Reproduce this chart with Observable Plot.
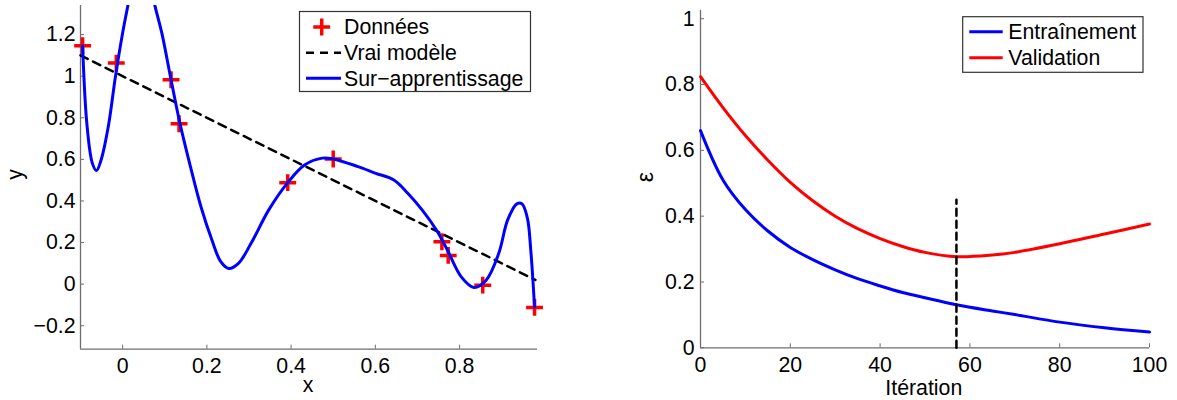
<!DOCTYPE html>
<html><head><meta charset="utf-8">
<script src="https://cdn.jsdelivr.net/npm/d3@7"></script>
<script src="https://cdn.jsdelivr.net/npm/@observablehq/plot@0.6"></script>
<style>
body{margin:0;background:#fff;}
#wrap{position:relative;width:1177px;height:400px;overflow:hidden;}
#wrap svg{position:absolute;top:0;}
</style></head><body><div id="wrap"></div>
<script>
// ---- Left panel data ----
const dataX = [-0.095, -0.015, 0.115, 0.134, 0.392, 0.500, 0.758, 0.773, 0.855, 0.978];
const dataY = [1.147, 1.063, 0.983, 0.771, 0.488, 0.602, 0.204, 0.138, -0.005, -0.112];
const trueX = [-0.1, 0.98];
const trueY = [1.1, 0.02];
const fitX = [-0.095, -0.085, -0.072, -0.062, -0.051, -0.034, -0.017, 0.0, 0.013, 0.028, 0.044, 0.060, 0.076, 0.093, 0.115, 0.136, 0.161, 0.186, 0.212, 0.233, 0.252, 0.275, 0.305, 0.347, 0.392, 0.432, 0.474, 0.500, 0.559, 0.601, 0.644, 0.677, 0.711, 0.745, 0.771, 0.804, 0.834, 0.863, 0.893, 0.914, 0.936, 0.948, 0.961, 0.969, 0.978];
const fitY = [1.147, 0.774, 0.582, 0.546, 0.598, 0.758, 0.999, 1.208, 1.345, 1.50, 1.57, 1.50, 1.345, 1.208, 0.983, 0.774, 0.565, 0.372, 0.212, 0.108, 0.075, 0.100, 0.196, 0.357, 0.488, 0.573, 0.606, 0.602, 0.565, 0.533, 0.501, 0.437, 0.357, 0.260, 0.164, 0.035, -0.016, 0.019, 0.148, 0.308, 0.386, 0.386, 0.317, 0.164, -0.110];
const leftXDomain = [-0.1, 0.985];
const leftYDomain = [-0.313, 1.34];
const leftXTicks = [0, 0.2, 0.4, 0.6, 0.8];
const leftYTicks = [-0.2, 0, 0.2, 0.4, 0.6, 0.8, 1, 1.2];
const leftLegend = ["Données", "Vrai modèle", "Sur\u2212apprentissage"];

// ---- Right panel data ----
const iter = [0, 5, 10, 15, 20, 25, 30, 35, 40, 45, 50, 57, 65, 70, 80, 90, 100];
const trainErr = [0.66, 0.51, 0.42, 0.355, 0.305, 0.268, 0.237, 0.21, 0.188, 0.168, 0.152, 0.131, 0.112, 0.101, 0.078, 0.061, 0.048];
const validErr = [0.824, 0.73, 0.645, 0.57, 0.503, 0.447, 0.400, 0.362, 0.332, 0.308, 0.290, 0.277, 0.282, 0.290, 0.316, 0.346, 0.376];
const stopIter = [57, 57];
const stopErr = [0, 0.45];
const rightXDomain = [0, 100];
const rightYDomain = [0, 1.025];
const rightXTicks = [0, 20, 40, 60, 80, 100];
const rightYTicks = [0, 0.2, 0.4, 0.6, 0.8, 1];
const rightLegend = ["Entraînement", "Validation"];

const FONT = "'Liberation Sans', Arial, Helvetica, sans-serif";
const FS = 21.3;
const AX = "#6e6e6e";
const fmt = d => String(Math.round(d * 10) / 10).replace("-", "\u2212");
const pts = (xs, ys) => xs.map((x, i) => ({x, y: ys[i]}));

const left = Plot.plot({
  width: 590, height: 400,
  marginLeft: 80, marginRight: 53, marginTop: 5, marginBottom: 51.3,
  x: {domain: leftXDomain},
  y: {domain: leftYDomain},
  style: {fontFamily: FONT, fontSize: FS + "px", color: "black", background: "transparent", overflow: "visible"},
  marks: [
    Plot.ruleY([leftYDomain[0]], {stroke: AX, strokeWidth: 1.3}),
    Plot.ruleX([leftXDomain[0]], {stroke: AX, strokeWidth: 1.3}),
    Plot.axisX({ticks: leftXTicks, tickSize: -4, tickPadding: 13, tickFormat: fmt, label: null, stroke: AX, fill: "black", fontSize: FS}),
    Plot.axisY({ticks: leftYTicks, tickSize: -4, tickPadding: 9, tickFormat: fmt, label: null, stroke: AX, fill: "black", fontSize: FS}),
    Plot.dot(pts(dataX, dataY), {x: "x", y: "y", symbol: "plus", r: 5.5, stroke: "#ff0000", strokeWidth: 3.5}),
    Plot.line(pts(trueX, trueY), {x: "x", y: "y", stroke: "black", strokeWidth: 2.5, strokeDasharray: "8,6"}),
    Plot.line(pts(fitX, fitY), {x: "x", y: "y", stroke: "#0000ff", strokeWidth: 3, curve: "catmull-rom", clip: true})
  ]
});

const right = Plot.plot({
  width: 587, height: 400,
  marginLeft: 110, marginRight: 28, marginTop: 10, marginBottom: 52.7,
  x: {domain: rightXDomain},
  y: {domain: rightYDomain},
  style: {fontFamily: FONT, fontSize: FS + "px", color: "black", background: "transparent", overflow: "visible"},
  marks: [
    Plot.ruleY([rightYDomain[0]], {stroke: AX, strokeWidth: 1.3}),
    Plot.ruleX([rightXDomain[0]], {stroke: AX, strokeWidth: 1.3}),
    Plot.axisX({ticks: rightXTicks, tickSize: -4, tickPadding: 13, tickFormat: fmt, label: null, stroke: AX, fill: "black", fontSize: FS}),
    Plot.axisY({ticks: rightYTicks, tickSize: -4, tickPadding: 10, tickFormat: fmt, label: null, stroke: AX, fill: "black", fontSize: FS}),
    Plot.line(pts(iter, trainErr), {x: "x", y: "y", stroke: "#0000ff", strokeWidth: 3, curve: "catmull-rom"}),
    Plot.line(pts(iter, validErr), {x: "x", y: "y", stroke: "#ff0000", strokeWidth: 3, curve: "catmull-rom"}),
    Plot.line(pts(stopIter, stopErr), {x: "x", y: "y", stroke: "black", strokeWidth: 2.5, strokeDasharray: "7,5"})
  ]
});

const wrap = document.getElementById("wrap");
left.style.left = "0px";
right.style.left = "590px";
wrap.appendChild(left);
wrap.appendChild(right);

function addText(svg, txt, x, y, rotate, size) {
  const t = d3.select(svg).append("text")
    .attr("font-family", FONT).attr("font-size", size || FS).attr("fill", "black")
    .attr("text-anchor", "middle").text(txt);
  if (rotate) t.attr("transform", `translate(${x},${y}) rotate(-90)`);
  else t.attr("x", x).attr("y", y);
}
addText(left, "x", 308, 392);
addText(left, "y", 21.5, 174.5, true);
addText(right, "Itération", 333.8, 394.5);
addText(right, "\u03b5", 63, 177, true, 23);

// Left legend
{
  const g = d3.select(left).append("g");
  g.append("rect").attr("x", 299.5).attr("y", 11.5).attr("width", 231).attr("height", 80)
    .attr("fill", "white").attr("stroke", "#333").attr("stroke-width", 1.2);
  g.append("path").attr("d", d3.symbol(d3.symbolPlus, Math.PI * 5.5 * 5.5)())
    .attr("transform", "translate(321.7,27)").attr("stroke", "#ff0000").attr("stroke-width", 3.5).attr("fill", "none");
  g.append("line").attr("x1", 306).attr("x2", 341).attr("y1", 52.7).attr("y2", 52.7)
    .attr("stroke", "black").attr("stroke-width", 2.5).attr("stroke-dasharray", "8,6");
  g.append("line").attr("x1", 306).attr("x2", 341).attr("y1", 78.3).attr("y2", 78.3)
    .attr("stroke", "#0000ff").attr("stroke-width", 3);
  const base = [33.5, 59.5, 85.5];
  leftLegend.forEach((s, i) => g.append("text").attr("x", 344).attr("y", base[i])
    .attr("text-anchor", "start")
    .attr("font-family", FONT).attr("font-size", FS).attr("fill", "black").text(s));
}
// Right legend
{
  const g = d3.select(right).append("g");
  g.append("rect").attr("x", 372.7).attr("y", 16.7).attr("width", 180.3).attr("height", 55.6)
    .attr("fill", "white").attr("stroke", "#333").attr("stroke-width", 1.2);
  const cols = ["#0000ff", "#ff0000"];
  const ly = [31.7, 57.7];
  const base = [39.3, 65];
  rightLegend.forEach((s, i) => {
    g.append("line").attr("x1", 379.3).attr("x2", 412.7).attr("y1", ly[i]).attr("y2", ly[i])
      .attr("stroke", cols[i]).attr("stroke-width", 3);
    g.append("text").attr("x", 418.3).attr("y", base[i])
      .attr("text-anchor", "start")
      .attr("font-family", FONT).attr("font-size", FS).attr("fill", "black").text(s);
  });
}
</script></body></html>
